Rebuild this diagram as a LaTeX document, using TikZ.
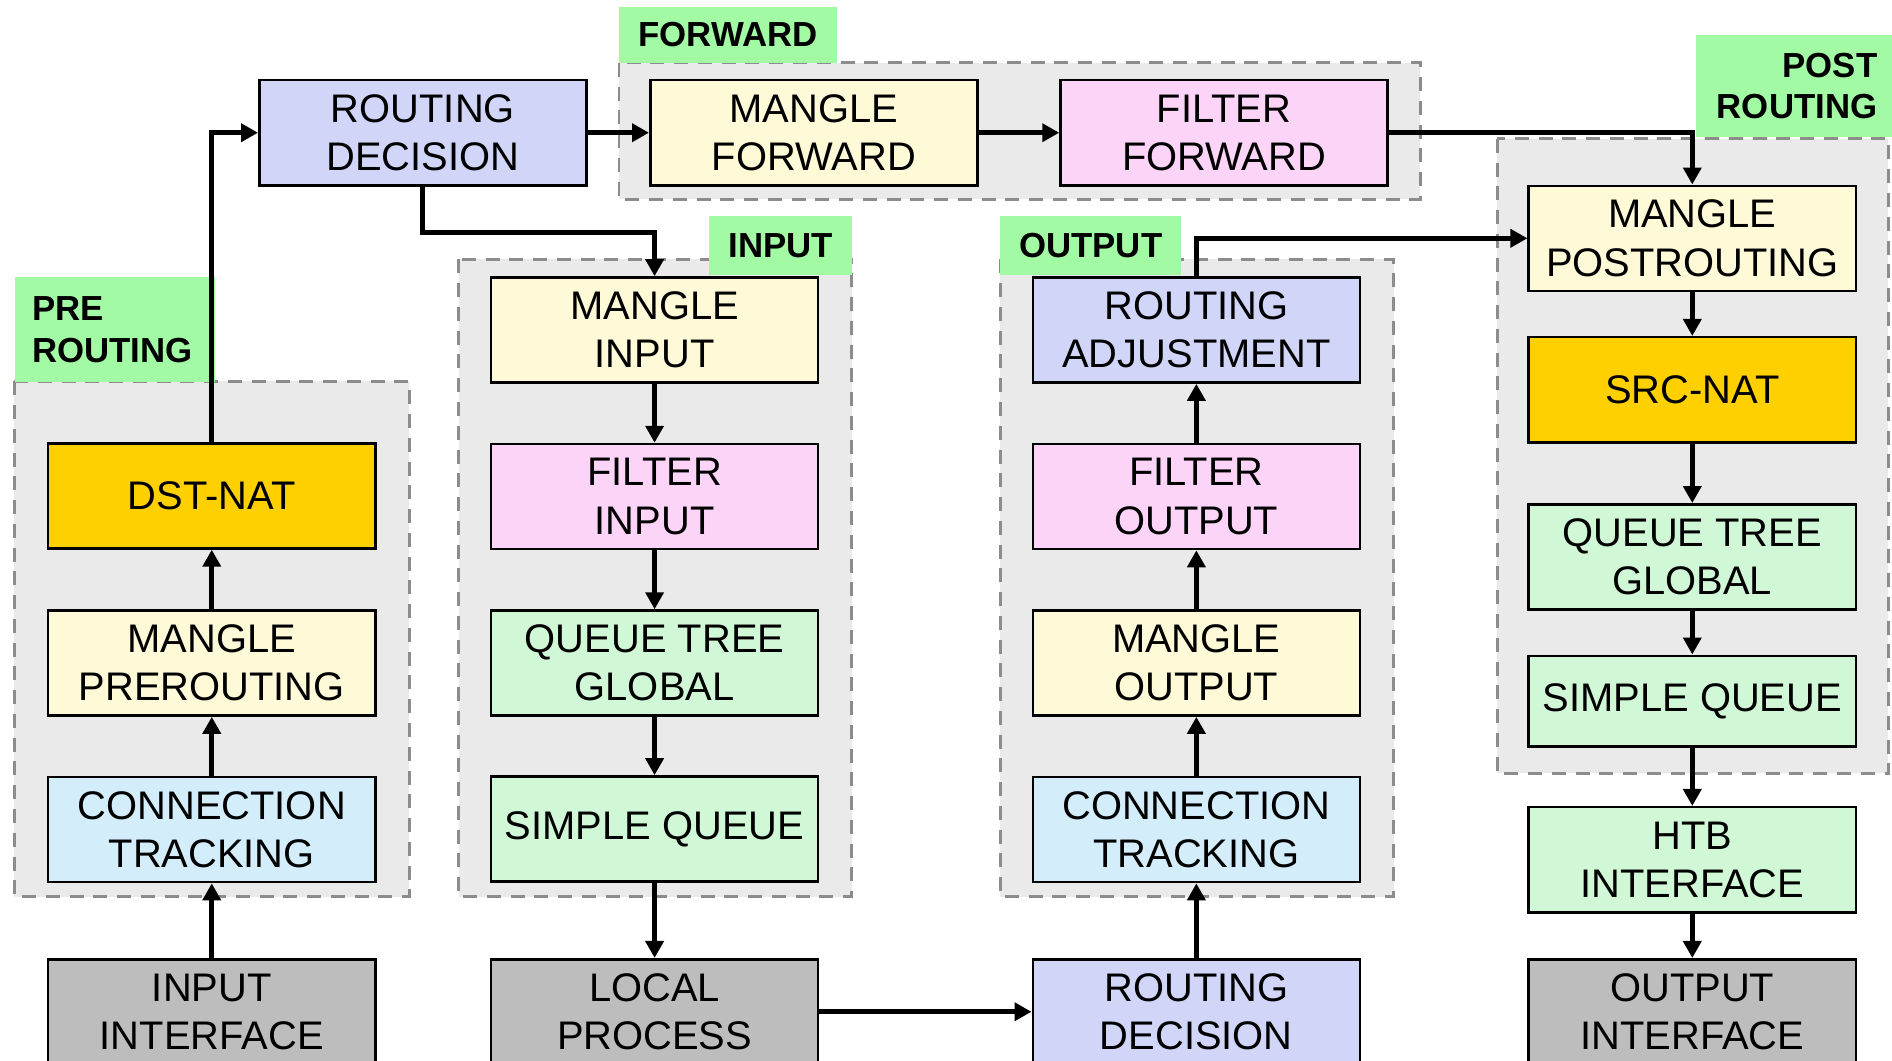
\documentclass[tikz,border=0pt]{standalone}
\usepackage{fontspec}
\setmainfont{Liberation Sans}
\usetikzlibrary{arrows.meta}
\definecolor{rdc}{RGB}{209,213,248}
\definecolor{mgc}{RGB}{254,249,215}
\definecolor{flc}{RGB}{251,212,248}
\definecolor{natc}{RGB}{254,208,0}
\definecolor{ctc}{RGB}{211,238,250}
\definecolor{qc}{RGB}{209,248,214}
\definecolor{ifc}{RGB}{189,189,189}
\definecolor{tagc}{RGB}{162,250,164}
\definecolor{chainc}{RGB}{234,234,234}
\definecolor{dashc}{RGB}{140,140,140}
\begin{document}
\begin{tikzpicture}[x=0.01cm,y=-0.01cm,
 box/.style={draw=black,line width=0.6pt,minimum width=2.71cm,minimum height=0.87cm,inner sep=0pt,align=center,font=\fontsize{9.4}{11.4}\selectfont},
 tag/.style={fill=tagc,inner sep=0pt,font=\bfseries\fontsize{8.2}{9.7}\selectfont},
 chain/.style={draw=dashc,fill=chainc,line width=0.7pt,dash pattern=on 3.3pt off 2.3pt},
 flow/.style={line width=1.2pt,-{Triangle[length=4pt,width=4.2pt]}}]
\useasboundingbox (0,0) rectangle (1568,879);
\draw[chain] (12,316) rectangle (339,743);\draw[chain] (380,215) rectangle (706,743);
\draw[chain] (513,52) rectangle (1177,165);\draw[chain] (829,215) rectangle (1155,743);
\draw[chain] (1241,115) rectangle (1565,641);
\node[tag,minimum width=1.81cm,minimum height=0.46cm] (tfwd) at (603.5,29) {FORWARD};
\node[tag,anchor=north west,minimum height=0.87cm,text width=1.37cm,inner xsep=0.14cm,align=left] (tpre) at (12,229) {PRE\\ROUTING};
\node[tag,minimum width=1.18cm,minimum height=0.49cm] (tin) at (647,203.5) {INPUT};
\node[tag,minimum width=1.5cm,minimum height=0.49cm] (tout) at (904,203.5) {OUTPUT};
\node[tag,anchor=north west,minimum height=0.85cm,text width=1.37cm,inner xsep=0.13cm,align=right] (tpost) at (1405,28) {POST\\ROUTING};
\node[box,fill=rdc] (rd) at (350.5,110) {ROUTING\\DECISION};
\node[box,fill=mgc] (mgfwd) at (674.5,110) {MANGLE\\FORWARD};
\node[box,fill=flc] (flfwd) at (1014.5,110) {FILTER\\FORWARD};
\node[box,fill=natc] (dnat) at (175.5,411) {DST-NAT};
\node[box,fill=mgc] (mgpre) at (175.5,549.5) {MANGLE\\PREROUTING};
\node[box,fill=ctc] (ctin) at (175.5,687.5) {CONNECTION\\TRACKING};
\node[box,fill=ifc] (inif) at (175.5,838.5) {INPUT\\INTERFACE};
\node[box,fill=mgc] (mgin) at (542.5,273.5) {MANGLE\\INPUT};
\node[box,fill=flc] (flin) at (542.5,411.5) {FILTER\\INPUT};
\node[box,fill=qc] (qtin) at (542.5,549.5) {QUEUE TREE\\GLOBAL};
\node[box,fill=qc] (sqin) at (542.5,687) {SIMPLE QUEUE};
\node[box,fill=ifc] (lp) at (542.5,838.5) {LOCAL\\PROCESS};
\node[box,fill=rdc] (radj) at (991.5,273.5) {ROUTING\\ADJUSTMENT};
\node[box,fill=flc] (flout) at (991.5,411.5) {FILTER\\OUTPUT};
\node[box,fill=mgc] (mgout) at (991.5,549.5) {MANGLE\\OUTPUT};
\node[box,fill=ctc] (ctout) at (991.5,687.5) {CONNECTION\\TRACKING};
\node[box,fill=rdc] (rdout) at (991.5,838.5) {ROUTING\\DECISION};
\node[box,fill=mgc] (mgpost) at (1402.5,197.5) {MANGLE\\POSTROUTING};
\node[box,fill=natc] (snat) at (1402.5,323) {SRC-NAT};
\node[box,fill=qc] (qtout) at (1402.5,461.5) {QUEUE TREE\\GLOBAL};
\node[box,fill=qc,minimum height=0.75cm] (sqout) at (1402.5,581) {SIMPLE QUEUE};
\node[box,fill=qc] (htb) at (1402.5,712.5) {HTB\\INTERFACE};
\node[box,fill=ifc] (outif) at (1402.5,838.5) {OUTPUT\\INTERFACE};
\draw[flow] (inif)--(ctin);\draw[flow] (ctin)--(mgpre);\draw[flow] (mgpre)--(dnat);
\draw[flow] (dnat.north) |- (rd.west);\draw[flow] (rd)--(mgfwd);\draw[flow] (mgfwd)--(flfwd);
\draw[flow] (flfwd.east) -| (mgpost.north);
\draw[flow] (rd.south) -- ++(0,38) -| (mgin.north);
\draw[flow] (mgin)--(flin);\draw[flow] (flin)--(qtin);\draw[flow] (qtin)--(sqin);\draw[flow] (sqin)--(lp);
\draw[flow] (lp)--(rdout);
\draw[flow] (rdout)--(ctout);\draw[flow] (ctout)--(mgout);\draw[flow] (mgout)--(flout);\draw[flow] (flout)--(radj);
\draw[flow] (radj.north) |- (mgpost.west);
\draw[flow] (mgpost)--(snat);\draw[flow] (snat)--(qtout);\draw[flow] (qtout)--(sqout);\draw[flow] (sqout)--(htb);\draw[flow] (htb)--(outif);
\end{tikzpicture}
\end{document}
